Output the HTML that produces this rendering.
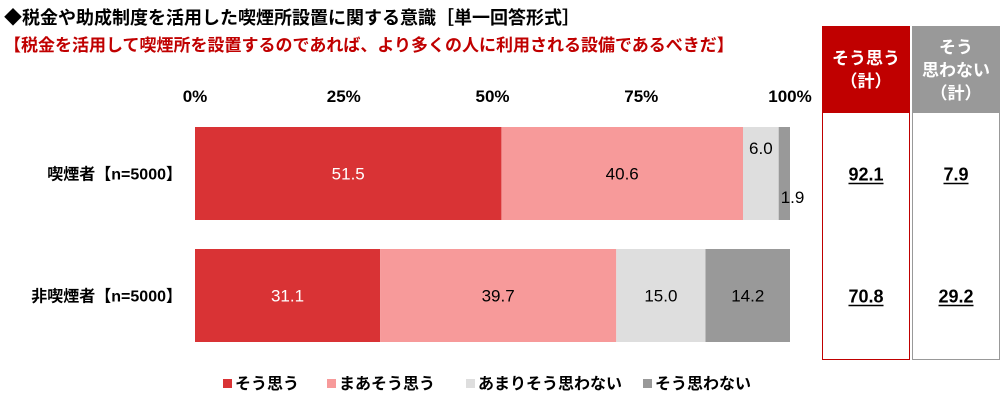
<!DOCTYPE html>
<html><head><meta charset="utf-8"><style>
body{margin:0;background:#fff;font-family:"Liberation Sans","Noto Sans CJK JP",sans-serif;}
#w{position:relative;width:1000px;height:410px;overflow:hidden}
.t{position:absolute;white-space:nowrap;font-weight:bold}
</style></head><body><div id="w">
<div class="t" style="left:4px;top:4px;font-size:18px;color:#000">◆税金や助成制度を活用した喫煙所設置に関する意識［単一回答形式］</div>
<div class="t" style="left:4px;top:31px;font-size:17px;color:#c00000">【税金を活用して喫煙所を設置するのであれば、より多くの人に利用される設備であるべきだ】</div>
<svg id="s" width="1000" height="410" style="position:absolute;left:0;top:0"></svg>
</div>
<script>
const categories=["喫煙者【n=5000】","非喫煙者【n=5000】"];
const seriesNames=["そう思う","まあそう思う","あまりそう思わない","そう思わない"];
const s1=[51.5,31.1];
const s2=[40.6,39.7];
const s3=[6.0,15.0];
const s4=[1.9,14.2];
const agreeTotal=[92.1,70.8];
const disagreeTotal=[7.9,29.2];
const ticks=[0,25,50,75,100];
const colors=["#d93335","#f79a9a","#dedede","#999999"];
const svg=document.getElementById('s');const NS="http://www.w3.org/2000/svg";
function el(t,a,txt){const e=document.createElementNS(NS,t);for(const k in a)e.setAttribute(k,a[k]);if(txt!=null)e.textContent=txt;svg.appendChild(e);return e;}
const x=v=>195+v*5.95;
const yTop=i=>127+i*122;const bh=93;
ticks.forEach(t=>{const e=el('text',{x:x(t),y:102,'text-anchor':'middle','font-size':17,'font-weight':'bold'},t+'%');

});
const series=[s1,s2,s3,s4];
categories.forEach((c,i)=>{
 const l=el('text',{x:182,y:yTop(i)+bh/2+6,'text-anchor':'end','font-size':16,'font-weight':'bold'},c);
 
 
 let acc=0;
 series.forEach((sr,j)=>{const v=sr[i];
  const r=el('rect',{x:x(acc),y:yTop(i),width:x(acc+v)-x(acc),height:bh,fill:colors[j]});
  
  
  const cx=(x(acc)+x(acc+v))/2;let ty=yTop(i)+bh/2+6;
  if(v<10){ if(j==3){ty=yTop(i)+bh-17;} else {ty=yTop(i)+27;} }
  const lx = v<3? x(acc)+2 : cx;
  const tt=el('text',{x:lx,y:ty,'text-anchor':v<3?'start':'middle','font-size':17,fill:j==0?'#fff':'#000'},v.toFixed(1));
  
  
  acc+=v;});
});
const b1=el('rect',{x:822.5,y:26.5,width:87,height:333,fill:'#fff',stroke:'#c00000'});

const h1=el('rect',{x:822,y:26,width:88,height:87,fill:'#c00000'});

const b2=el('rect',{x:912.5,y:26.5,width:87,height:333,fill:'#fff',stroke:'#999'});

const h2=el('rect',{x:912,y:26,width:88,height:87,fill:'#999'});

[['そう思う',64],['（計）',87]].forEach(a=>{const e=el('text',{x:866,y:a[1],'text-anchor':'middle','font-size':17,'font-weight':'bold',fill:'#fff'},a[0]);});
[['そう',53],['思わない',76],['（計）',99]].forEach(a=>{const e=el('text',{x:956,y:a[1],'text-anchor':'middle','font-size':17,'font-weight':'bold',fill:'#fff'},a[0]);});
categories.forEach((c,i)=>{const cy=yTop(i)+bh/2+7;
 const a=el('text',{x:866,y:cy,'text-anchor':'middle','font-size':18,'font-weight':'bold'},agreeTotal[i].toFixed(1));
 
 const d=el('text',{x:956,y:cy,'text-anchor':'middle','font-size':18,'font-weight':'bold'},disagreeTotal[i].toFixed(1));
 
 [[a,866],[d,956]].forEach(p=>{const w=p[0].getComputedTextLength();const u=el('line',{x1:p[1]-w/2,x2:p[1]+w/2,y1:cy+3,y2:cy+3,stroke:'#000','stroke-width':1.5});});
});
const lx=[223,327,466,643];
seriesNames.forEach((n,j)=>{
 const r=el('rect',{x:lx[j],y:379,width:9,height:9,fill:colors[j]});
 
 const t=el('text',{x:lx[j]+12,y:389,'font-size':16,'font-weight':'bold'},n);
 
});
</script></body></html>
